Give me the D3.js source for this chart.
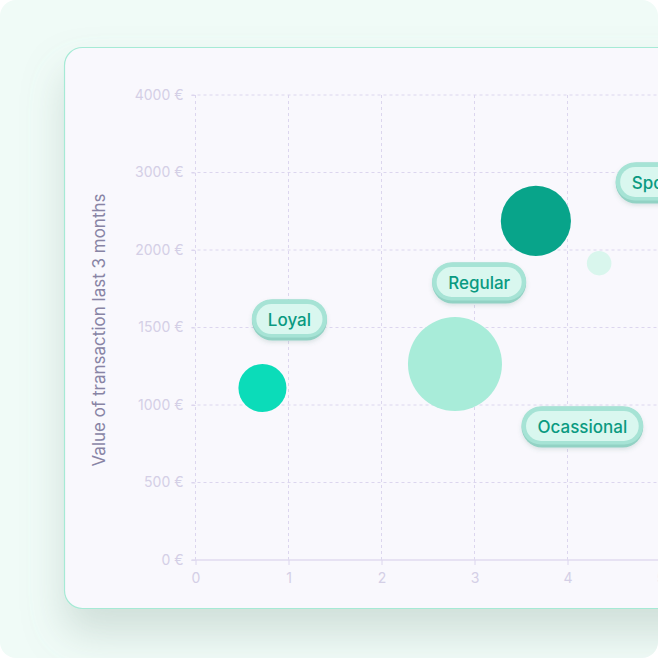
<!DOCTYPE html>
<html>
<head>
<meta charset="utf-8">
<script src="https://cdn.jsdelivr.net/npm/d3@7"></script>
<style>
  html, body { margin: 0; padding: 0; background: #ffffff; }
  svg { display: block; }
</style>
</head>
<body>
<svg id="chart" width="658" height="658"></svg>
<script>
// segments on the chart
var segments   = ["Loyal", "Regular", "Frequent", "New"];
var frequency  = [0.72, 2.79, 3.66, 4.34];          // x: purchases last 3 months
var value      = [1110, 1264, 2375, 1915];          // y: value of transaction (€)
var customers  = [230, 880, 490, 60];               // bubble size
var colors     = ["#0bdcb9", "#a8ecd9", "#08a48a", "#d9f6ed"];

// floating pill labels
var labelText  = ["Loyal", "Regular", "Ocassional", "Sporadic"];
var labelX     = [1.01, 3.05, 4.16, 5.08];
var labelY     = [1548, 1787, 858, 2865];

// axis ticks
var xTicks = [0, 1, 2, 3, 4, 5];
var yTicks = [0, 500, 1000, 1500, 2000, 3000, 4000];

var svg = d3.select("#chart");
var font = "Inter, 'DejaVu Sans', sans-serif";

var defs = svg.append("defs");
var cardShadow = defs.append("filter").attr("id", "cardShadow")
    .attr("x", "-30%").attr("y", "-30%").attr("width", "160%").attr("height", "170%");
cardShadow.append("feDropShadow").attr("dx", 0).attr("dy", 24).attr("stdDeviation", 20)
    .attr("flood-color", "#6f8f84").attr("flood-opacity", 0.26);

var pillShadow = defs.append("filter").attr("id", "pillShadow")
    .attr("x", "-20%").attr("y", "-30%").attr("width", "140%").attr("height", "170%");
pillShadow.append("feDropShadow").attr("dx", 0).attr("dy", 2).attr("stdDeviation", 2)
    .attr("flood-color", "#4a7a70").attr("flood-opacity", 0.18);

var clip = defs.append("clipPath").attr("id", "pageClip");
clip.append("rect").attr("width", 658).attr("height", 658).attr("rx", 16);

var page = svg.append("g").attr("clip-path", "url(#pageClip)");

// mint background
page.append("rect").attr("width", 658).attr("height", 658).attr("fill", "#f0fbf7");

// card
page.append("rect")
    .attr("x", 64.5).attr("y", 47.5).attr("width", 700).attr("height", 561)
    .attr("rx", 18)
    .attr("fill", "#f9f8fd")
    .attr("stroke", "#a6ead5")
    .attr("stroke-width", 1.2)
    .attr("filter", "url(#cardShadow)");

var x = d3.scaleLinear().domain([0, 5]).range([195.5, 660.5]);
var y = d3.scaleLinear().domain(yTicks).range(yTicks.map(function(d, i) { return 560 - i * 77.5; }));
var r = d3.scaleSqrt().domain([0, d3.max(customers)]).range([0, 47]);

var plot = page.append("g");

// grid
plot.append("g").selectAll("line").data(yTicks.slice(1)).enter().append("line")
    .attr("x1", x(0) - 4).attr("x2", 700)
    .attr("y1", function(d) { return y(d); }).attr("y2", function(d) { return y(d); })
    .attr("stroke", "#dcd6ee").attr("stroke-width", 1).attr("stroke-dasharray", "3,3");

plot.append("g").selectAll("line").data(xTicks).enter().append("line")
    .attr("x1", function(d) { return x(d); }).attr("x2", function(d) { return x(d); })
    .attr("y1", y(4000)).attr("y2", y(0))
    .attr("stroke", "#dcd6ee").attr("stroke-width", 1).attr("stroke-dasharray", "3,3");

// y axis
var yAxis = plot.append("g")
    .attr("transform", "translate(" + x(0) + ",0)")
    .call(d3.axisLeft(y).tickValues(yTicks).tickSize(4).tickPadding(8)
        .tickFormat(function(d) { return d + " €"; }));
yAxis.select(".domain").remove();
yAxis.selectAll(".tick line").attr("stroke", "#dcd6ee");
yAxis.selectAll(".tick text").attr("fill", "#d4cfe6")
    .style("font-family", font).style("font-size", "14px");

// x axis
var xAxis = plot.append("g")
    .attr("transform", "translate(0," + y(0) + ")")
    .call(d3.axisBottom(x).tickValues(xTicks).tickSize(5).tickSizeOuter(0).tickPadding(8)
        .tickFormat(d3.format("d")));
xAxis.select(".domain").attr("d", "M" + (x(0) - 4) + ",0H700")
    .attr("stroke", "#e0dbef").attr("stroke-width", 1.5);
xAxis.selectAll(".tick line").attr("stroke", "#dcd6ee");
xAxis.selectAll(".tick text").attr("fill", "#d4cfe6")
    .style("font-family", font).style("font-size", "14px");

// axis title
plot.append("text")
    .attr("transform", "translate(105,330) rotate(-90)")
    .attr("text-anchor", "middle")
    .attr("fill", "#8884a5")
    .style("font-family", font).style("font-size", "17px")
    .text("Value of transaction last 3 months");

// bubbles
plot.append("g").selectAll("circle").data(segments).enter().append("circle")
    .attr("cx", function(d, i) { return x(frequency[i]); })
    .attr("cy", function(d, i) { return y(value[i]); })
    .attr("r", function(d, i) { return r(customers[i]); })
    .attr("fill", function(d, i) { return colors[i]; });

// pill labels
var pills = plot.append("g").selectAll("g").data(labelText).enter().append("g")
    .attr("transform", function(d, i) { return "translate(" + x(labelX[i]) + "," + y(labelY[i]) + ")"; });

pills.each(function(d) {
  var g = d3.select(this);
  var t = g.append("text")
      .attr("text-anchor", "middle")
      .attr("dy", "0.36em")
      .attr("fill", "#0a9a81")
      .style("font-family", font).style("font-size", "17px").style("font-weight", 500)
      .text(d);
  var w = t.node().getComputedTextLength() + 32;
  var h = 41;
  g.insert("rect", "text")
      .attr("x", -w / 2).attr("y", -h / 2).attr("width", w).attr("height", h)
      .attr("rx", h / 2).attr("fill", "#92d2c4").attr("filter", "url(#pillShadow)");
  g.insert("rect", "text")
      .attr("x", -w / 2).attr("y", -h / 2).attr("width", w).attr("height", h - 3)
      .attr("rx", (h - 3) / 2).attr("fill", "#a6e3d5");
  g.insert("rect", "text")
      .attr("x", -w / 2 + 4.5).attr("y", -h / 2 + 4.5).attr("width", w - 9).attr("height", h - 11)
      .attr("rx", (h - 11) / 2).attr("fill", "#d9f7ef");
});
</script>
</body>
</html>
